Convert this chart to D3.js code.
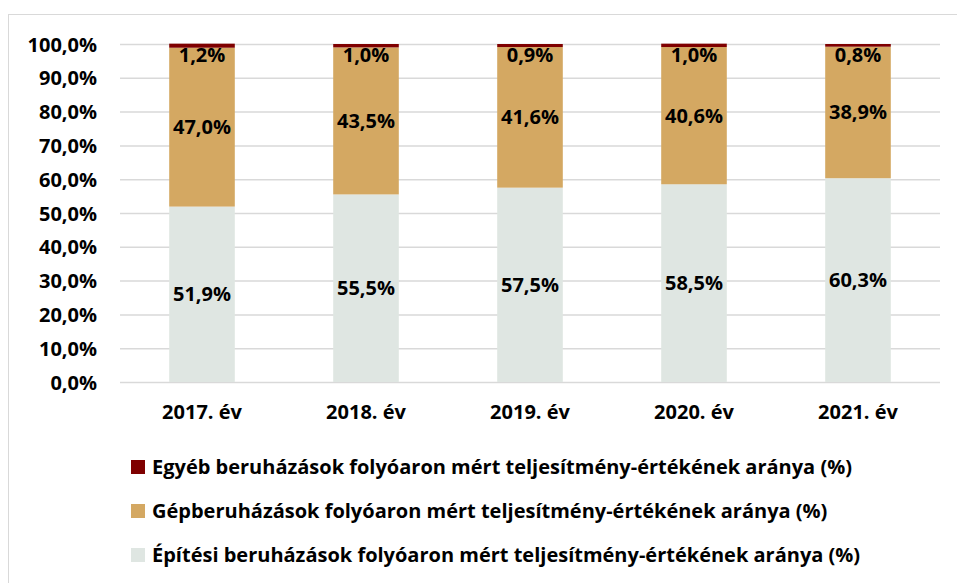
<!DOCTYPE html>
<html><head><meta charset="utf-8">
<script src="https://cdn.jsdelivr.net/npm/d3@7"></script>
<style>
html,body{margin:0;padding:0;background:#fff;}
svg{display:block;}
text{font-family:"Open Sans",sans-serif;font-weight:bold;fill:#000;}
</style></head>
<body>
<svg id="chart" width="957" height="583"></svg>
<script>
const categories = ["2017. év","2018. év","2019. év","2020. év","2021. év"];
const epitesi = [51.9,55.5,57.5,58.5,60.3];
const gep = [47.0,43.5,41.6,40.6,38.9];
const egyeb = [1.2,1.0,0.9,1.0,0.8];
const seriesNames = [
  "Egyéb beruházások folyóaron mért teljesítmény-értékének aránya (%)",
  "Gépberuházások folyóaron mért teljesítmény-értékének aránya (%)",
  "Építési beruházások folyóaron mért teljesítmény-értékének aránya (%)"
];
const yTicks = [0,10,20,30,40,50,60,70,80,90,100];
const colors = {egyeb:"#7F0000", gep:"#D4A862", epitesi:"#DFE6E2"};
const FS = "20px";

const svg = d3.select("#chart");
svg.append("rect").attr("x",8.5).attr("y",14.5).attr("width",960).attr("height",600)
  .attr("fill","none").attr("stroke","#D9D9D9").attr("stroke-width",1);

const x = d3.scaleBand().domain(categories).range([120,940]).paddingInner(0.6).paddingOuter(0.3);
const y = d3.scaleLinear().domain([0,100]).range([382,44]);
const fmt = v => d3.format(".1f")(v).replace(".",",") + "%";

svg.append("g").selectAll("line").data(yTicks).join("line")
  .attr("x1",120).attr("x2",940).attr("y1",d=>y(d)+0.5).attr("y2",d=>y(d)+0.5)
  .attr("stroke","#D9D9D9").attr("stroke-width",1.5);

const yAxis = d3.axisLeft(y).tickValues(yTicks).tickFormat(fmt).tickSize(0).tickPadding(0);
const gy = svg.append("g").attr("transform","translate(97,0)").call(yAxis);
gy.select(".domain").remove();
gy.selectAll("text").attr("font-size",FS).attr("font-family","Open Sans").attr("font-weight","bold").attr("dy","0.35em");

const xAxis = d3.axisBottom(x).tickSize(0).tickPadding(0);
const gx = svg.append("g").attr("transform","translate(0,412)").call(xAxis);
gx.select(".domain").remove();
gx.selectAll("text").attr("font-size",FS).attr("font-family","Open Sans").attr("font-weight","bold").attr("dy","0.35em");

const rows = categories.map((c,i)=>({cat:c, epitesi:epitesi[i], gep:gep[i], egyeb:egyeb[i]}));
const stack = d3.stack().keys(["epitesi","gep","egyeb"]);
const layers = stack(rows);

const gBars = svg.append("g");
layers.forEach(layer=>{
  gBars.append("g").selectAll("rect").data(layer).join("rect")
    .attr("x",d=>x(d.data.cat)).attr("width",x.bandwidth())
    .attr("y",d=>y(d[1])).attr("height",d=>y(d[0])-y(d[1]))
    .attr("fill",colors[layer.key]);
});

const gLab = svg.append("g");
layers.forEach(layer=>{
  gLab.append("g").selectAll("text").data(layer).join("text")
    .attr("x",d=>x(d.data.cat)+x.bandwidth()/2)
    .attr("y",d=> layer.key==="egyeb" ? y(d[1])+11 : y((d[0]+d[1])/2))
    .attr("dy","0.35em")
    .attr("text-anchor","middle").attr("font-size",FS)
    .text(d=>fmt(d.data[layer.key]));
});

const legKeys = ["egyeb","gep","epitesi"];
const lg = svg.append("g");
legKeys.forEach((k,i)=>{
  const ly = 467 + i*44;
  lg.append("rect").attr("x",131).attr("y",ly-7).attr("width",14).attr("height",14).attr("fill",colors[k]);
  lg.append("text").attr("x",152).attr("y",ly).attr("dy","0.35em").attr("font-size",FS).text(seriesNames[i]);
});
</script>
</body></html>
